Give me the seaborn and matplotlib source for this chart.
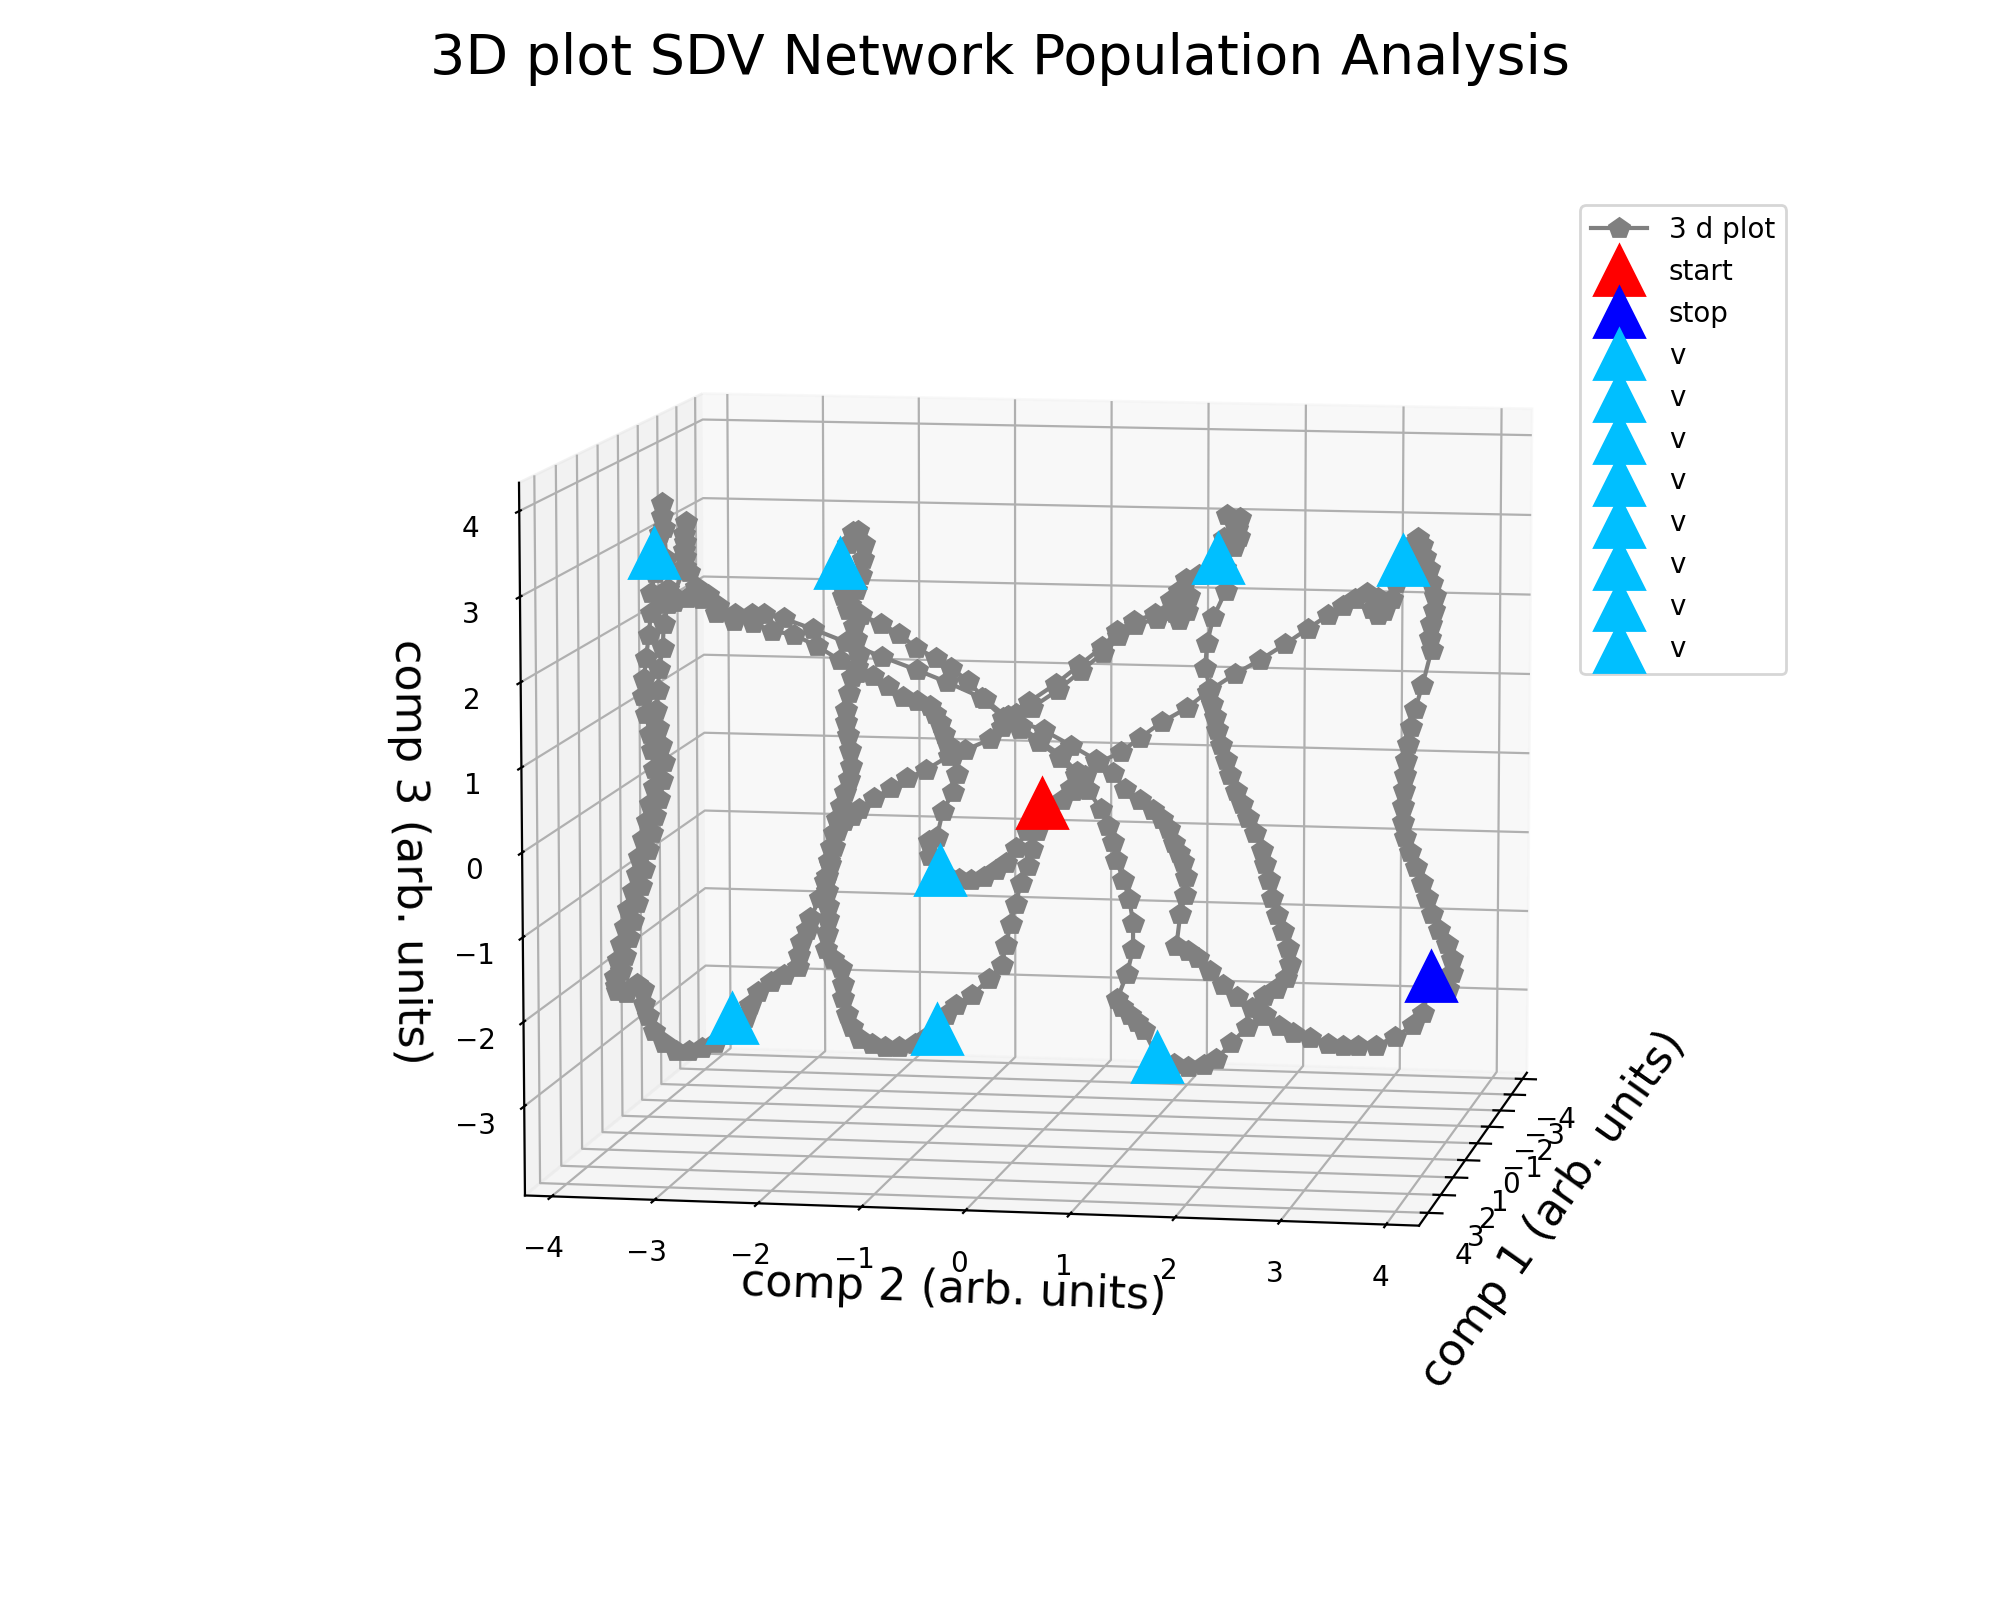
import matplotlib
matplotlib.use("Agg")
import matplotlib.pyplot as plt
import seaborn as sns

colors = sns.color_palette(["gray", "red", "blue", "deepskyblue"])

# markers (comp 1, comp 2, comp 3)
start = [0.0, -0.02, -0.05]
stop = [-2.0, 3.60, -2.41]
vx = [0, -2, -2, -2, 0, 2, 0, 0]
vy = [-3.90, -2.39, 1.44, 3.30, -1.04, -2.76, -1.07, 1.13]
vz = [2.89, 2.54, 2.71, 2.73, -0.90, -2.41, -2.86, -3.12]

# trajectory, strand by strand; comp 1 is only a rough depth guess for each strand
d1 = 0
y1 = [1.39, 1.25, 1.10, .90, .73, .58, .35, .12, -.15, -.36, -.23, -.05, .17, .33, .27, .18, -.02]
z1 = [2.40, 2.33, 2.28, 2.20, 2.07, 1.87, 1.64, 1.41, 1.18, 1.00, .88, .72, .54, .34, .14, -.01, -.05]

d2 = -2
y2 = [-.02, .10, .23, .46, .66, .88, 1.13, 1.34, 1.62, 1.87, 2.12, 2.35, 2.55, 2.70, 2.82, 2.94, 3.05, 2.99, 3.05,
      3.11, 3.19, 3.23, 3.30, 3.38, 3.45, 3.49, 3.52, 3.56, 3.59, 3.62, 3.61, 3.58, 3.57, 3.59, 3.50, 3.43,
      3.39, 3.36, 3.34, 3.33, 3.32, 3.31, 3.31, 3.33, 3.39, 3.45, 3.51, 3.56, 3.61, 3.68, 3.76, 3.81, 3.82,
      3.78, 3.60, 3.53, 3.43, 3.25, 3.05, 2.87, 2.72, 2.57, 2.39, 2.22, 2.07, 1.93, 1.80, 1.65, 1.50, 1.37,
      1.25, 1.15, 1.03, 1.07, 1.12, 1.13, 1.10, 1.05, 1.00, .95, .88, .79, .66, .51, .38, .21, -.04, -.32, -.69,
      -.92, -1.09, -1.26, -1.42, -1.62, -1.79, -1.98, -2.18, -2.29, -2.35, -2.39, -2.31, -2.26, -2.21, -2.15,
      -2.16, -2.18, -2.23, -2.36, -2.31, -2.25]
z2 = [-.22, -.04, .13, .27, .46, .66, .84, 1.05, 1.28, 1.46, 1.66, 1.86, 2.03, 2.15, 2.24, 2.31, 2.25, 2.12, 2.05,
      2.10, 2.25, 2.45, 2.73, 2.92, 3.01, 2.92, 2.77, 2.62, 2.46, 2.29, 2.12, 1.95, 1.78, 1.63, 1.19, .90,
      .67, .46, .27, .08, -.11, -.31, -.50, -.69, -.87, -1.06, -1.25, -1.44, -1.64, -1.83, -2.01, -2.19, -2.37,
      -2.57, -2.41, -2.87, -3.03, -3.18, -3.30, -3.31, -3.31, -3.29, -3.23, -3.17, -3.09, -2.96, -2.87, -2.74,
      -2.60, -2.43, -2.27, -2.19, -2.13, -1.72, -1.49, -1.26, -1.07, -.96, -.84, -.67, -.55, -.44, -.32, -.18,
      .01, .17, .34, .52, .67, .89, 1.11, 1.27, 1.39, 1.51, 1.68, 1.80, 1.90, 2.02, 2.21, 2.54, 2.78, 2.93, 2.94,
      2.79, 2.60, 2.40, 2.21, 2.14, 1.96, 1.77]

d3 = 0
y3 = [-1.88, -1.85, -1.87, -1.92, -1.95, -1.98, -1.98, -1.96, -1.94, -1.93, -1.95, -1.99, -2.03, -2.07, -2.10,
      -2.13, -2.15, -2.17, -2.18, -2.17, -2.17, -2.18, -2.19, -2.12, -2.04, -2.02, -2.02, -1.98, -1.93, -1.85,
      -1.73, -1.60, -1.45, -1.29, -1.17, -1.07, -.98, -.88, -.72, -.55, -.42, -.38, -.33, -.28, -.23, -.16,
      -.12, -.07, -.02, -.17, -.28, -.38, -.48, -.60, -.73, -.85, -.97, -1.04, -1.14, -1.15, -1.07]
z3 = [1.90, 1.72, 1.56, 1.43, 1.24, 1.03, .88, .72, .54, .35, .19, .02, -.15, -.31, -.48, -.66, -.83, -1.02,
      -1.20, -1.39, -1.55, -1.72, -1.91, -2.03, -2.15, -2.34, -2.52, -2.71, -2.87, -3.01, -3.07, -3.10, -3.10,
      -3.06, -2.97, -2.86, -2.69, -2.56, -2.43, -2.23, -2.05, -1.80, -1.54, -1.29, -1.04, -.83, -.62, -.39,
      -.05, -.40, -.61, -.80, -.89, -.97, -1.01, -1.01, -.98, -.90, -.74, -.55, -.50]

d4 = 2
y4 = [-.67, -.57, -.53, -.57, -.62, -.66, -.70, -.75, -.79, -.92, -1.06, -1.21, -1.35, -1.51, -1.68, -1.90,
      -2.13, -2.34, -2.53, -2.72, -2.90, -2.97, -3.09, -3.16, -3.20, -3.20, -3.19, -3.21, -3.21, -3.20, -3.32,
      -3.43, -3.54, -3.56, -3.59, -3.61, -3.62, -3.59, -3.56, -3.54, -3.52, -3.52, -3.56, -3.59, -3.63, -3.67,
      -3.69, -3.73, -3.78, -3.82, -3.86, -3.89, -3.92, -3.90, -3.81, -3.70, -3.64, -3.63, -3.59, -3.53, -3.44,
      -3.32, -3.19, -3.06, -2.93, -2.83, -2.76]
z4 = [.16, .39, .61, .83, .95, 1.09, 1.21, 1.32, 1.41, 1.47, 1.52, 1.64, 1.76, 1.79, 1.94, 2.10, 2.23, 2.27,
      2.36, 2.38, 2.47, 2.68, 2.77, 2.95, 3.13, 3.31, 3.55, 3.41, 3.22, 3.01, 2.66, 2.60, 2.45, 2.19, 1.91,
      1.66, 1.45, 1.24, 1.00, .80, .58, .36, .15, -.05, -.27, -.49, -.70, -.90, -1.12, -1.34, -1.55, -1.75,
      -1.95, -2.12, -2.15, -2.03, -2.09, -2.27, -2.42, -2.59, -2.74, -2.83, -2.83, -2.79, -2.72, -2.62, -2.41]

d5 = -2
y5 = [-3.39, -3.34, -3.25, -3.12, -2.98, -2.84, -2.83, -2.81, -2.75, -2.71, -2.61, -2.56, -2.51, -2.47, -2.43,
      -2.36, -2.28, -2.21, -2.05, -1.88, -1.71, -1.52, -1.29, -1.12, -.87, -.74, -.60, -.44, -.17, .06, .28,
      .43, .61, .83, 1.01, 1.05, 1.13, 1.15, 1.05, .97, 1.12, 1.25, 1.44, 1.50, 1.60, 1.53, 1.66, 1.63, 1.65,
      1.60, 1.51, 1.52]
z5 = [-3.19, -3.03, -2.86, -2.73, -2.63, -2.53, -2.38, -2.21, -2.06, -1.90, -1.65, -1.44, -1.22, -1.01, -.80,
      -.67, -.61, -.52, -.38, -.25, -.12, -.01, .17, .25, .39, .55, .71, .80, 1.03, 1.27, 1.50, 1.71, 1.86,
      1.94, 2.02, 1.93, 2.04, 2.23, 2.29, 2.18, 2.44, 2.49, 2.71, 2.96, 3.16, 3.24, 3.20, 3.07, 2.97,
      2.84, 2.58, 2.30]

d6 = 0
y6 = [1.68, 1.62, 1.60, 1.65, 1.67, 1.70, 1.72, 1.76, 1.81, 1.85, 1.91, 1.97, 2.03, 2.10, 2.17, 2.20, 2.24,
      2.27, 2.32, 2.38, 2.43, 2.45, 2.41, 2.31, 2.19, 2.17, 2.03, 1.87, 1.72, 1.60, 1.44, 1.30, 1.13]
z6 = [2.26, 1.95, 1.64, 1.39, 1.21, 1.05, .90, .71, .53, .35, .16, 0.0, -.17, -.35, -.55, -.72, -.92, -1.13,
      -1.34, -1.53, -1.74, -1.93, -2.11, -2.24, -2.33, -2.58, -2.72, -2.93, -3.13, -3.20, -3.23, -3.20, -3.12]

d7 = -2
y7 = [.70, .63, .56, .48, .43, .53, .59, .59, .55, .49, .42, .38, .33, .26, .13, .01, -.15, -.37, -.56, -.73]
z7 = [-3.19, -3.09, -3.01, -2.91, -2.81, -2.49, -2.18, -1.85, -1.55, -1.32, -1.07, -.85, -.65, -.44, -.21,
      -.03, .18, .37, .53, .66]

d8 = 0
y8 = [-.62, -.97, -1.27, -1.62, -1.98, -2.31, -2.60, -2.80, -2.92, -3.09, -3.26, -3.42, -3.57, -3.70, -3.84,
      -3.94, -3.89, -3.86, -3.84, -3.82, -3.82, -3.80, -3.78, -3.76, -3.76, -3.81, -3.82, -3.86, -3.87, -3.89,
      -3.87, -3.84, -3.82, -3.84, -3.87, -3.91, -3.94, -3.98, -4.02, -4.06, -4.10, -4.14, -4.18, -4.22, -4.26,
      -4.32]
z8 = [1.22, 1.40, 1.54, 1.69, 1.86, 2.01, 2.13, 2.18, 2.18, 2.17, 2.27, 2.35, 2.35, 2.30, 2.34, 2.40, 2.65,
      2.89, 3.14, 3.35, 3.51, 3.20, 2.83, 2.46, 2.28, 2.03, 1.74, 1.47, 1.22, .97, .75, .54, .33, .11, -.12,
      -.33, -.54, -.76, -.99, -1.20, -1.41, -1.64, -1.85, -2.07, -2.26, -2.45]

depths = [d1, d2, d3, d4, d5, d6, d7, d8]
ys = [y1, y2, y3, y4, y5, y6, y7, y8]
zs = [z1, z2, z3, z4, z5, z6, z7, z8]
comp1, comp2, comp3 = [], [], []
for d, y, z in zip(depths, ys, zs):
    comp1 += [d] * len(y)
    comp2 += y
    comp3 += z

fig = plt.figure(figsize=(10, 8), dpi=200)
ax = fig.add_axes([248 / 2000, 14 / 1600, 1550 / 2000, 1550 / 1600], projection="3d")
ax.computed_zorder = False
ax.set_box_aspect((858, 894, 711), zoom=0.8745)
ax.set_proj_type("persp", focal_length=1.1)
ax.view_init(elev=8.4, azim=10)

ax.plot(comp1, comp2, comp3, "-p", color=colors[0], ms=7.5, lw=1.5, label="3 d plot", zorder=2)
ax.plot([start[0]], [start[1]], [start[2]], "^", color=colors[1], ms=18, label="start", zorder=3)
ax.plot([stop[0]], [stop[1]], [stop[2]], "^", color=colors[2], ms=18, label="stop", zorder=3)
for i in range(8):
    ax.plot([vx[i]], [vy[i]], [vz[i]], "^", color=colors[3], ms=18, label="v", zorder=3)

ax.set_xlim(-4.4, 4.7, view_margin=0)
ax.set_ylim(-4.26, 4.31, view_margin=0)
ax.set_zlim(-4.06, 4.33, view_margin=0)
ax.set_xticks(range(-4, 5))
ax.set_yticks(range(-4, 5))
ax.set_zticks(range(-3, 5))
ax.tick_params(labelsize=10)
ax.tick_params(axis="y", pad=5)
ax.tick_params(axis="z", pad=5)
ax.set_xlabel("comp 1 (arb. units)", fontsize=16, labelpad=5)
ax.set_ylabel("comp 2 (arb. units)", fontsize=16, labelpad=5)
ax.set_zlabel("comp 3 (arb. units)", fontsize=16, labelpad=9)
fig.suptitle("3D plot SDV Network Population Analysis", fontsize=20, y=0.98)
ax.legend(loc="upper left", bbox_to_anchor=(1580 / 2000, 1 - 205 / 1600),
          bbox_transform=fig.transFigure, borderaxespad=0, fontsize=10)
fig.savefig("out.png", dpi=200)
